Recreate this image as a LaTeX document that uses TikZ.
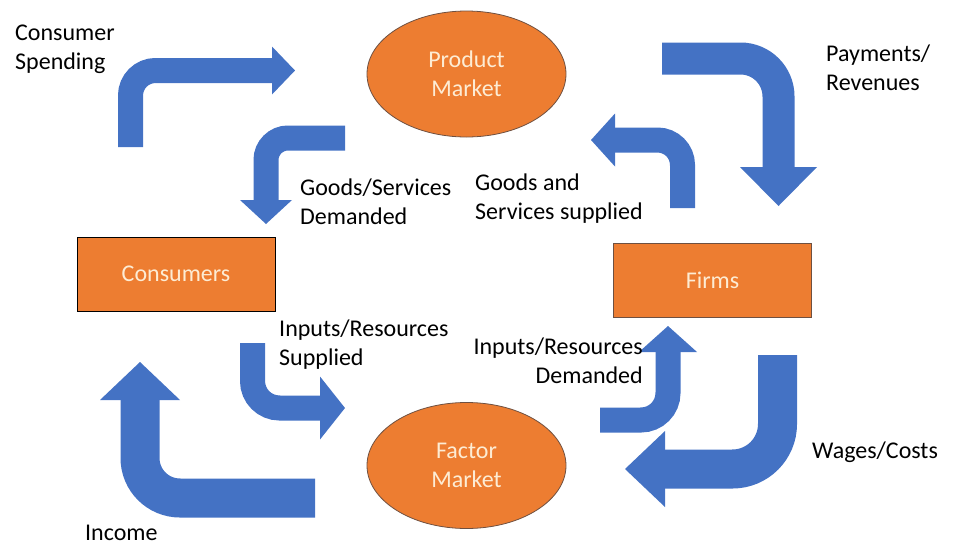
\documentclass[tikz,border=0pt]{standalone}
\usepackage{fontspec}
\setmainfont{Carlito}
\usetikzlibrary{shapes.geometric}
\definecolor{flowblue}{RGB}{68,114,196}
\definecolor{boxorange}{RGB}{237,125,49}
\definecolor{boxtext}{RGB}{253,236,212}
\definecolor{boxedge}{RGB}{110,80,65}

\begin{document}
\begin{tikzpicture}[x=1pt,y=-1pt,
  market/.style={ellipse,fill=boxorange,draw=boxedge,line width=0.8pt,minimum width=199pt,minimum height=126pt,inner sep=0pt,text=boxtext,align=center},
  agent/.style={rectangle,fill=boxorange,line width=0.8pt,minimum width=198pt,minimum height=74pt,inner sep=0pt,text=boxtext},
  lbl/.style={inner sep=0pt,align=left,anchor=west},
  shaft/.style={draw=flowblue,line cap=butt}]
\useasboundingbox (0,0) rectangle (953,555);
\fontsize{24}{29}\selectfont
% markets and agents
\node[market] (prodmarket) at (466.5,74) {Product\\Market};
\node[market] (factmarket) at (466.5,465.5) {Factor\\Market};
\node[agent,draw=black] (consumers) at (176,274) {Consumers};
\node[agent,draw=boxedge] (firms) at (712.5,280) {Firms};
% bent arrows
\draw [shaft,line width=25pt,rounded corners=25pt] (130.5,147)--(130.5,70.5)--(273,70.5);
\fill [flowblue] (272,46.5)--(295,70.5)--(272,94.5)--cycle;
\draw [shaft,line width=25pt,rounded corners=22pt] (345,138)--(266,138)--(266,201);
\fill [flowblue] (240,200)--(266,224)--(292,200)--cycle;
\draw [shaft,line width=25pt,rounded corners=25pt] (682.5,208)--(682.5,140)--(614,140);
\fill [flowblue] (615,113.5)--(591,140)--(615,166.5)--cycle;
\draw [shaft,line width=32pt,rounded corners=38pt] (662,58.5)--(778.5,58.5)--(778.5,168);
\fill [flowblue] (740,167)--(778.5,206)--(817,167)--cycle;
\draw [shaft,line width=25pt,rounded corners=27pt] (252.5,343)--(252.5,408)--(321,408);
\fill [flowblue] (320,376.5)--(345,408)--(320,439.5)--cycle;
\draw [shaft,line width=39pt,rounded corners=40pt] (315,498)--(140,498)--(140,399);
\fill [flowblue] (100,400)--(140,362)--(180,400)--cycle;
\draw [shaft,line width=25pt,rounded corners=27pt] (600,420)--(668,420)--(668,351);
\fill [flowblue] (639,352)--(668,326)--(697,352)--cycle;
\draw [shaft,line width=39pt,rounded corners=45pt] (777.5,355)--(777.5,469)--(664,469);
\fill [flowblue] (665,431)--(625,469)--(665,507)--cycle;
% flow labels
\node[lbl] (spending) at (15,49.5) {Consumer\\Spending};
\node[lbl] (payments) at (826,68) {Payments/\\Revenues};
\node[lbl] (gdemand) at (300,201.5) {Goods/Services\\Demanded};
\node[lbl] (gsupply) at (475,198.5) {Goods and\\Services supplied};
\node[lbl] (isupply) at (279,344.5) {Inputs/Resources\\Supplied};
\node[inner sep=0pt,align=right,anchor=east] (idemand) at (643,360.5) {Inputs/Resources\\Demanded};
\node[lbl] (wages) at (812,452) {Wages/Costs};
\node[lbl] (income) at (85,533) {Income};
\end{tikzpicture}
\end{document}
